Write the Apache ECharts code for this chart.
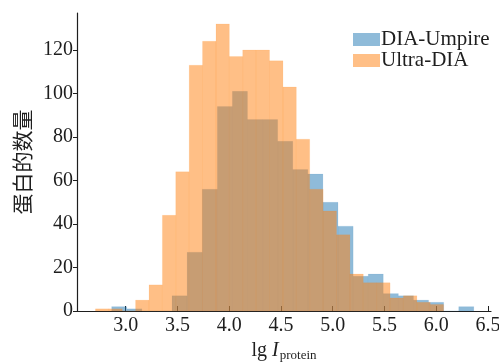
<!DOCTYPE html>
<html>
<head>
<meta charset="utf-8">
<script src="https://cdn.jsdelivr.net/npm/echarts@6/dist/echarts.min.js"></script>
<style>
  html, body { margin: 0; padding: 0; background: #fff; }
  #chart { width: 499px; height: 362px; }
</style>
</head>
<body>
<div id="chart"></div>
<script>
// bin edges (lg I_protein) and counts
const umpireEdges = [2.865, 3.011, 3.157, 3.302, 3.448, 3.594, 3.740, 3.886, 4.031, 4.177,
  4.323, 4.469, 4.615, 4.760, 4.906, 5.052, 5.198, 5.344, 5.489, 5.635, 5.781, 5.927,
  6.073, 6.218, 6.364];
const umpireCounts = [2, 1, 0, 0, 7, 27, 56, 94, 101, 88, 88, 78, 65, 63, 50, 39, 16, 17,
  8, 7, 5, 4, 0, 2];

const ultraEdges = [2.708, 2.837, 2.967, 3.096, 3.226, 3.355, 3.484, 3.614, 3.743, 3.873,
  4.002, 4.131, 4.261, 4.390, 4.520, 4.649, 4.778, 4.908, 5.037, 5.167, 5.296, 5.425,
  5.555, 5.684, 5.814, 5.943, 6.072];
const ultraCounts = [1, 1, 0, 5, 12, 44, 64, 113, 124, 132, 117, 120, 120, 115, 103, 79,
  56, 46, 35, 17, 13, 13, 6, 7, 4, 3];

const xTicks = [3.0, 3.5, 4.0, 4.5, 5.0, 5.5, 6.0, 6.5];
const yTicks = [0, 20, 40, 60, 80, 100, 120];

const FONT = '"Liberation Serif", "DejaVu Serif", serif';
const INK = '#1e1e1e';

function toBins(edges, counts) {
  return counts.map((c, i) => [edges[i], edges[i + 1], c]);
}

function renderBar(params, api) {
  const p0 = api.coord([api.value(0), api.value(2)]);
  const p1 = api.coord([api.value(1), 0]);
  return {
    type: 'rect',
    shape: { x: p0[0], y: p0[1], width: p1[0] - p0[0], height: p1[1] - p0[1] },
    style: api.style({ lineWidth: 0.6 })
  };
}

const chart = echarts.init(document.getElementById('chart'));

chart.setOption({
  animation: false,
  grid: { left: 77, right: 8, top: 13, bottom: 51, containLabel: false, outerBoundsMode: 'none' },
  legend: {
    orient: 'vertical',
    left: 353,
    top: 29,
    padding: 0,
    itemWidth: 27,
    itemHeight: 13,
    itemGap: 0,
    icon: 'rect',
    textStyle: { fontFamily: FONT, fontSize: 21, color: INK, lineHeight: 19, padding: [0, 0, 0, -4] },
    data: ['DIA-Umpire', 'Ultra-DIA']
  },
  xAxis: {
    type: 'value',
    min: 2.53,
    max: 6.53,
    splitLine: { show: false },
    axisLine: { lineStyle: { color: INK, width: 1.2 } },
    axisTick: { inside: true, length: 5, lineStyle: { color: INK }, customValues: xTicks },
    axisLabel: {
      customValues: xTicks,
      formatter: v => v.toFixed(1),
      fontFamily: FONT, fontSize: 20, color: INK, margin: 5
    },
    name: '{a|lg }{i|I}{s|protein}',
    nameLocation: 'middle',
    nameGap: 28,
    nameTextStyle: {
      rich: {
        a: { fontFamily: FONT, fontSize: 20, color: INK, lineHeight: 22 },
        i: { fontFamily: FONT, fontSize: 20, color: INK, fontStyle: 'italic', lineHeight: 22 },
        s: { fontFamily: FONT, fontSize: 13, color: INK, padding: [10, 0, 0, 1] }
      }
    }
  },
  yAxis: {
    type: 'value',
    min: 0,
    max: 137,
    splitLine: { show: false },
    axisLine: { show: true, lineStyle: { color: INK, width: 1.2 } },
    axisTick: { show: true, length: 4, lineStyle: { color: INK }, customValues: yTicks },
    axisLabel: {
      customValues: yTicks,
      fontFamily: FONT, fontSize: 20, color: INK, margin: 4
    },
    name: '蛋白的数量',
    nameLocation: 'middle',
    nameGap: 44,
    nameTextStyle: { fontFamily: '"Noto Sans CJK SC"', fontSize: 21, color: INK }
  },
  series: [
    {
      name: 'DIA-Umpire',
      type: 'custom',
      renderItem: renderBar,
      encode: { x: [0, 1], y: 2 },
      itemStyle: { color: 'rgba(31,119,180,0.5)', borderColor: 'rgba(31,119,180,0.12)' },
      data: toBins(umpireEdges, umpireCounts)
    },
    {
      name: 'Ultra-DIA',
      type: 'custom',
      renderItem: renderBar,
      encode: { x: [0, 1], y: 2 },
      itemStyle: { color: 'rgba(255,127,14,0.5)', borderColor: 'rgba(255,127,14,0.15)' },
      data: toBins(ultraEdges, ultraCounts)
    }
  ]
});
</script>
</body>
</html>
